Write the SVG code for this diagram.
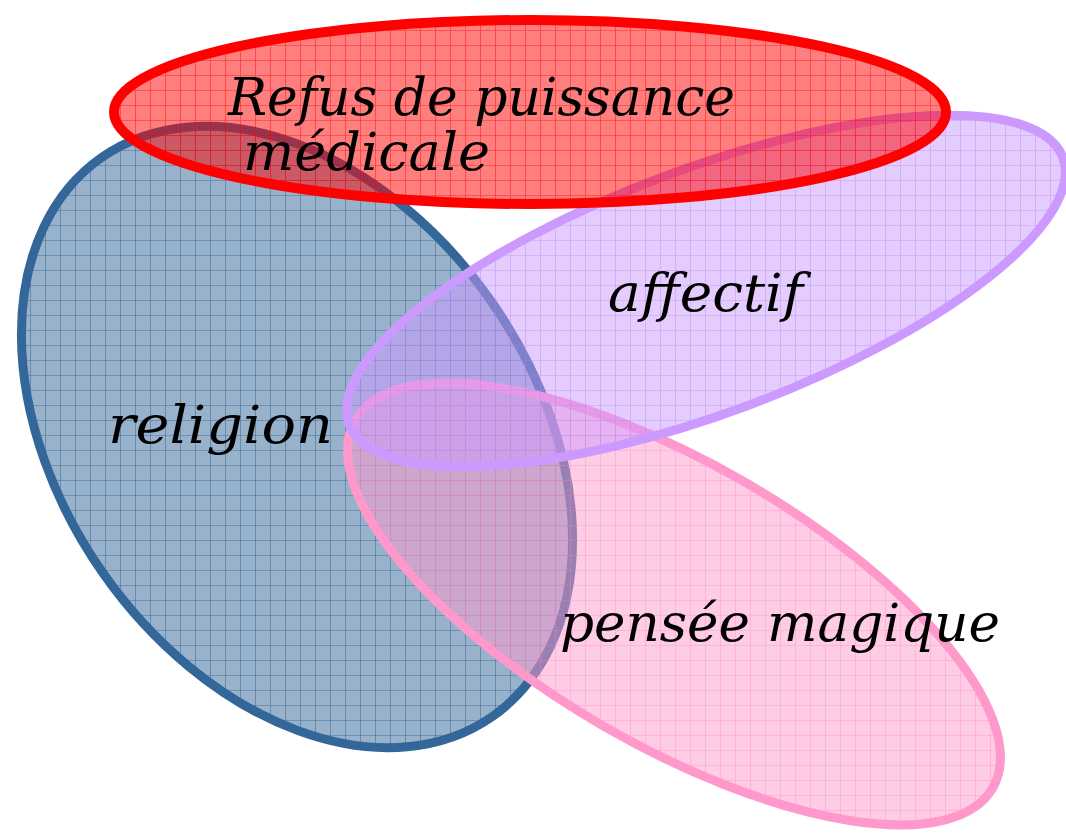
<svg xmlns="http://www.w3.org/2000/svg" width="1066" height="833" viewBox="0 0 1066 833">
<style>
.lbl{font-family:"DejaVu Serif","Liberation Serif",serif;font-style:italic;font-size:53px;fill:#000}
.sw{stroke-width:9;fill:none}
</style>
<defs>
<pattern id="gBlue" width="15" height="15" patternUnits="userSpaceOnUse"><path d="M0 0H15M0 0V15" stroke="#2d5f90" stroke-width="1.2" stroke-opacity="0.8" fill="none"/></pattern>
<pattern id="gRed" width="15" height="15" patternUnits="userSpaceOnUse"><path d="M0 0H15M0 0V15" stroke="#ff0000" stroke-width="1.2" stroke-opacity="0.7" fill="none"/></pattern>
<pattern id="gPurple" width="15" height="15" patternUnits="userSpaceOnUse"><path d="M0 0H15M0 0V15" stroke="#b07fe8" stroke-width="1.2" stroke-opacity="0.6" fill="none"/></pattern>
<pattern id="gPink" width="15" height="15" patternUnits="userSpaceOnUse"><path d="M0 0H15M0 0V15" stroke="#ff80bf" stroke-width="1.2" stroke-opacity="0.6" fill="none"/></pattern>
<clipPath id="cBlue"><ellipse cx="297" cy="437" rx="341" ry="237" transform="rotate(55 297 437)"/></clipPath>
<clipPath id="cPink"><ellipse cx="674" cy="604" rx="368" ry="141" transform="rotate(30 674 604)"/></clipPath>
<clipPath id="cPurple"><ellipse cx="706" cy="291" rx="381" ry="122" transform="rotate(-20.5 706 291)"/></clipPath>
<clipPath id="cRed"><ellipse cx="530" cy="112" rx="416" ry="92"/></clipPath>
</defs>
<rect width="1066" height="833" fill="#fff"/>
<g id="religion">
<ellipse cx="297" cy="437" rx="341" ry="237" transform="rotate(55 297 437)" fill="#336699" fill-opacity="0.5"/>
<rect width="1066" height="833" fill="url(#gBlue)" clip-path="url(#cBlue)"/>
<ellipse class="sw" cx="297" cy="437" rx="341" ry="237" transform="rotate(55 297 437)" stroke="#336699"/>
</g>
<g id="pensee-magique">
<ellipse cx="674" cy="604" rx="368" ry="141" transform="rotate(30 674 604)" fill="#ff99cc" fill-opacity="0.5"/>
<rect width="1066" height="833" fill="url(#gPink)" clip-path="url(#cPink)"/>
<ellipse class="sw" cx="674" cy="604" rx="368" ry="141" transform="rotate(30 674 604)" stroke="#ff99cc"/>
</g>
<g id="affectif">
<ellipse cx="706" cy="291" rx="381" ry="122" transform="rotate(-20.5 706 291)" fill="#cc99ff" fill-opacity="0.5"/>
<rect width="1066" height="833" fill="url(#gPurple)" clip-path="url(#cPurple)"/>
<ellipse class="sw" cx="706" cy="291" rx="381" ry="122" transform="rotate(-20.5 706 291)" stroke="#cc99ff"/>
</g>
<g id="refus">
<ellipse cx="530" cy="112" rx="416" ry="92" fill="#ff0000" fill-opacity="0.5"/>
<rect width="1066" height="833" fill="url(#gRed)" clip-path="url(#cRed)"/>
<ellipse cx="530" cy="112" rx="416" ry="92" stroke="#ff0000" stroke-width="10" fill="none"/>
</g>
<g id="labels">
<text class="lbl" x="228" y="115" textLength="507" lengthAdjust="spacingAndGlyphs">Refus de puissance</text>
<text class="lbl" x="243" y="170" textLength="247" lengthAdjust="spacingAndGlyphs">médicale</text>
<text class="lbl" x="608" y="311" textLength="195" lengthAdjust="spacingAndGlyphs">affectif</text>
<text class="lbl" x="108" y="443" textLength="225" lengthAdjust="spacingAndGlyphs">religion</text>
<text class="lbl" x="560" y="641" textLength="440" lengthAdjust="spacingAndGlyphs">pensée magique</text>
</g>
</svg>
